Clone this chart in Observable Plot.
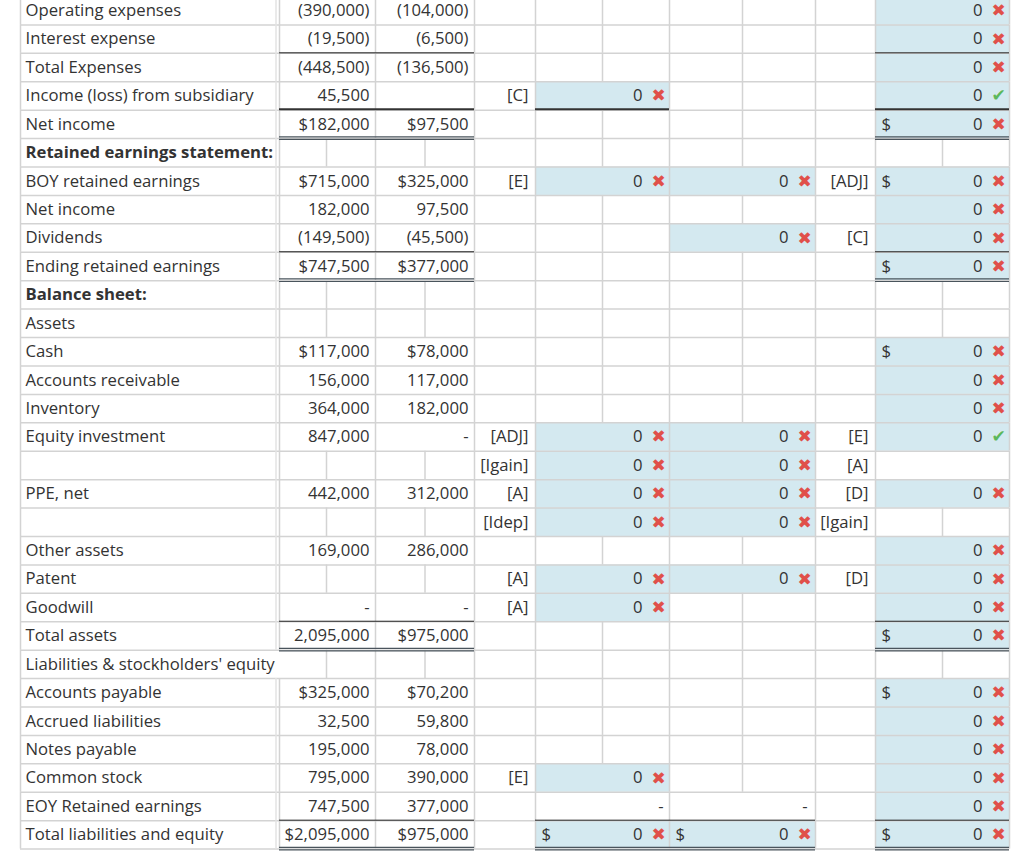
<!DOCTYPE html>
<html><head><meta charset="utf-8">
<script src="https://cdn.jsdelivr.net/npm/d3@7"></script>
<script src="https://cdn.jsdelivr.net/npm/@observablehq/plot@0.6"></script>
<style>body{margin:0;background:#fff;} svg{display:block}</style>
</head><body><div id="chart"></div>
<script>
// ---------------- DATA ----------------
const labels = [
  "Operating expenses","Interest expense","Total Expenses","Income (loss) from subsidiary","Net income",
  "Retained earnings statement:","BOY retained earnings","Net income","Dividends","Ending retained earnings",
  "Balance sheet:","Assets","Cash","Accounts receivable","Inventory","Equity investment","",
  "PPE, net","","Other assets","Patent","Goodwill","Total assets","Liabilities & stockholders' equity",
  "Accounts payable","Accrued liabilities","Notes payable","Common stock","EOY Retained earnings","Total liabilities and equity"];
const boldRows = [6, 11];
const parentValues = [-390000,-19500,-448500,45500,182000,null,715000,182000,-149500,747500,null,null,117000,156000,364000,847000,null,442000,null,169000,null,0,2095000,null,325000,32500,195000,795000,747500,2095000];
const parentDollarRows = [5,7,10,13,25,30];
const subsidiaryValues = [-104000,-6500,-136500,null,97500,null,325000,97500,-45500,377000,null,null,78000,117000,182000,0,null,312000,null,286000,null,0,975000,null,70200,59800,78000,390000,377000,975000];
const subsidiaryDollarRows = [5,7,10,13,23,25,30];
const debitRefs = [[4,"[C]"],[7,"[E]"],[16,"[ADJ]"],[17,"[Igain]"],[18,"[A]"],[19,"[Idep]"],[21,"[A]"],[22,"[A]"],[28,"[E]"]];
const debitEntries = [[4,0,"x"],[7,0,"x"],[16,0,"x"],[17,0,"x"],[18,0,"x"],[19,0,"x"],[21,0,"x"],[22,0,"x"],[28,0,"x"],[30,0,"x"]];
const debitDollarRows = [30];
const debitDashRows = [29];
const creditRefs = [[7,"[ADJ]"],[9,"[C]"],[16,"[E]"],[17,"[A]"],[18,"[D]"],[19,"[Igain]"],[21,"[D]"]];
const creditEntries = [[7,0,"x"],[9,0,"x"],[16,0,"x"],[17,0,"x"],[18,0,"x"],[19,0,"x"],[21,0,"x"],[30,0,"x"]];
const creditDollarRows = [30];
const creditDashRows = [29];
const consolidatedEntries = [[1,0,"x"],[2,0,"x"],[3,0,"x"],[4,0,"ok"],[5,0,"x"],[7,0,"x"],[8,0,"x"],[9,0,"x"],[10,0,"x"],[13,0,"x"],[14,0,"x"],[15,0,"x"],[16,0,"ok"],[18,0,"x"],[20,0,"x"],[21,0,"x"],[22,0,"x"],[23,0,"x"],[25,0,"x"],[26,0,"x"],[27,0,"x"],[28,0,"x"],[29,0,"x"],[30,0,"x"]];
const consolidatedDollarRows = [5,7,10,13,23,25,30];

// ---------------- LAYOUT / STYLE ----------------
const COL = {label:[20,277], parent:[277,375], sub:[375,474], dref:[474,535], dval:[535,669], cval:[669,815], cref:[815,875], cons:[875,1009]};
const singleRules = [[2,["parent","sub","cons"]],[9,["parent","sub","cons"]],[22,["parent","sub","cons"]],[29,["parent","sub","dval","cval","cons"]]];
const heavyRules = [[4,["parent","sub","dval","cons"]]];
const doubleRules = [[5,["parent","sub","cons"]],[10,["parent","sub","cons"]],[23,["parent","sub","cons"]],[30,["parent","sub","dval","cval","cons"]]];
const plainBlankCells = [["sub",4],["cons",17]];
const noLabelEdgeRows = [24];
const BLUE = "#d4e9f0", GRID = "#d3d3d3", INK = "#333";
const FONT = "'Open Sans', 'Noto Sans', sans-serif";
const FS = 16.7;
const nRows = labels.length;

// ---------------- BUILD ----------------
const fmt = d3.format(",");
function money(v, dollar) {
  if (v === 0) return "-";
  const s = (dollar ? "$" : "") + fmt(Math.abs(v));
  return v < 0 ? "(" + s + ")" : s;
}
const endTexts = [], startTexts = [], boldTexts = [], marks = [], blue = [];
labels.forEach((t, i) => {
  if (!t) return;
  const d = {x: COL.label[0] + 5, y: i + 0.5, text: t};
  (boldRows.includes(i + 1) ? boldTexts : startTexts).push(d);
});
parentValues.forEach((v, i) => { if (v != null) endTexts.push({x: COL.parent[1] - 6, y: i + 0.5, text: money(v, parentDollarRows.includes(i + 1))}); });
subsidiaryValues.forEach((v, i) => { if (v != null) endTexts.push({x: COL.sub[1] - 6, y: i + 0.5, text: money(v, subsidiaryDollarRows.includes(i + 1))}); });
debitRefs.forEach(([r, t]) => endTexts.push({x: COL.dref[1] - 7, y: r - 0.5, text: t}));
creditRefs.forEach(([r, t]) => endTexts.push({x: COL.cref[1] - 7, y: r - 0.5, text: t}));
function entries(list, key, dollarRows) {
  const [a, b] = COL[key];
  list.forEach(([r, v, st]) => {
    blue.push({x1: a, x2: b, y1: r - 1, y2: r});
    endTexts.push({x: b - 27, y: r - 0.5, text: String(v)});
    marks.push({x: b - 11, y: r - 0.5, st});
    if (dollarRows.includes(r)) startTexts.push({x: a + 6, y: r - 0.5, text: "$"});
  });
}
entries(debitEntries, "dval", debitDollarRows);
entries(creditEntries, "cval", creditDollarRows);
entries(consolidatedEntries, "cons", consolidatedDollarRows);
debitDashRows.forEach(r => endTexts.push({x: COL.dval[1] - 6, y: r - 0.5, text: "-"}));
creditDashRows.forEach(r => endTexts.push({x: COL.cval[1] - 8, y: r - 0.5, text: "-"}));

// filled cells -> split lines in empty cells
const filled = {
  parent: parentValues.map((v, i) => v != null ? i + 1 : null).filter(Boolean),
  sub: subsidiaryValues.map((v, i) => v != null ? i + 1 : null).filter(Boolean),
  dval: debitEntries.map(d => d[0]).concat(debitDashRows),
  cval: creditEntries.map(d => d[0]).concat(creditDashRows),
  cons: consolidatedEntries.map(d => d[0])
};
const splits = [];
for (const key of Object.keys(filled)) {
  for (let r = 1; r <= nRows; r++) {
    if (filled[key].includes(r)) continue;
    if (plainBlankCells.some(([k, rr]) => k === key && rr === r)) continue;
    splits.push({x: (COL[key][0] + COL[key][1]) / 2, y1: r - 1, y2: r});
  }
}
// grid
const hGrid = d3.range(0, nRows + 1).map(r => ({y: r, x1: COL.label[0], x2: COL.cons[1]}));
const vGrid = [];
const edges = [COL.label[0], 275.5, 279, COL.sub[0], COL.dref[0], COL.dval[0], COL.cval[0], COL.cref[0], COL.cons[0], COL.cons[1]];
for (let r = 1; r <= nRows; r++) {
  edges.forEach(x => {
    if ((x === 275.5 || x === 279) && noLabelEdgeRows.includes(r)) return;
    vGrid.push({x, y1: r - 1, y2: r, light: x === 275.5});
  });
}
function ruleSegs(list) {
  const out = [];
  list.forEach(([r, keys]) => keys.forEach(k => out.push({y: r, x1: COL[k][0] + (k === "parent" ? 2 : 0), x2: COL[k][1]})));
  return out;
}
const single = ruleSegs(singleRules), heavy = ruleSegs(heavyRules), dbl = ruleSegs(doubleRules);

const chart = Plot.plot({
  width: 1024, height: 856, margin: 0,
  x: {type: "linear", domain: [0, 1024], range: [0, 1024], axis: null},
  y: {type: "linear", domain: [0, nRows], range: [-4.0, 848.6], axis: null},
  style: {fontFamily: FONT, background: "#fff"},
  marks: [
    Plot.rect(blue, {x1: "x1", x2: "x2", y1: "y1", y2: "y2", fill: BLUE}),
    Plot.ruleY(hGrid, {y: "y", x1: "x1", x2: "x2", stroke: GRID, strokeWidth: 1.5}),
    Plot.ruleX(vGrid, {x: "x", y1: "y1", y2: "y2", stroke: d => d.light ? "#e3e3e3" : GRID, strokeWidth: 1.5}),
    Plot.ruleX(splits, {x: "x", y1: "y1", y2: "y2", stroke: GRID, strokeWidth: 1.5}),
    Plot.ruleY(single, {y: "y", x1: "x1", x2: "x2", stroke: "#222", strokeWidth: 1, dy: -0.5}),
    Plot.ruleY(heavy, {y: "y", x1: "x1", x2: "x2", stroke: "#333", strokeWidth: 2, dy: -1}),
    Plot.ruleY(dbl, {y: "y", x1: "x1", x2: "x2", stroke: "#4a545c", strokeWidth: 1.2, dy: -1.8}),
    Plot.ruleY(dbl, {y: "y", x1: "x1", x2: "x2", stroke: "#4a545c", strokeWidth: 1.2, dy: 0.8}),
    Plot.text(startTexts, {x: "x", y: "y", text: "text", textAnchor: "start", fontSize: FS, fill: INK}),
    Plot.text(boldTexts, {x: "x", y: "y", text: "text", textAnchor: "start", fontSize: FS, fontWeight: "bold", fill: INK}),
    Plot.text(endTexts, {x: "x", y: "y", text: "text", textAnchor: "end", fontSize: FS, fill: INK}),
    Plot.text(marks, {x: "x", y: "y", text: d => d.st === "ok" ? "\u2714" : "\u2716", fontFamily: "DejaVu Sans", fontSize: 17, fill: d => d.st === "ok" ? "#5cb85c" : "#e0504a"})
  ]
});
document.getElementById("chart").appendChild(chart);
</script>
</body></html>
